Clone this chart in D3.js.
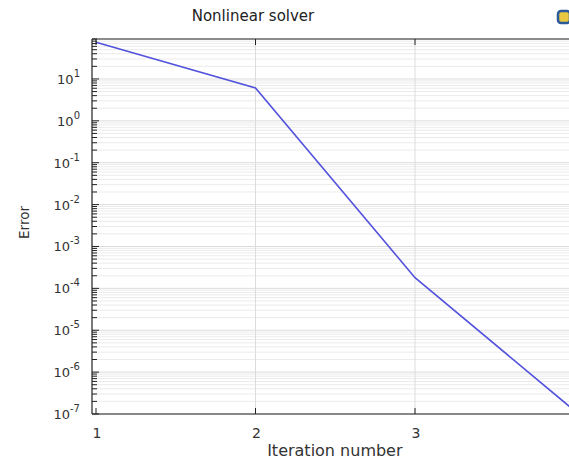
<!DOCTYPE html>
<html>
<head>
<meta charset="utf-8">
<script src="https://cdn.jsdelivr.net/npm/d3@7"></script>
<style>
  body { margin: 0; background: #fff; }
  svg { display: block; font-family: 'DejaVu Sans', sans-serif; }
</style>
</head>
<body>
<svg></svg>
<script>
const width = 569;
const height = 461;

// data
const iterations = [1, 2, 3, 4];
const errors = [75, 6.1, 1.8e-4, 1.2e-7];
const xTicks = [1, 2, 3, 4];
const yExponents = [-7, -6, -5, -4, -3, -2, -1, 0, 1];

const plotLeft = 92, plotTop = 39, plotBottom = 414;

const svg = d3.select('svg')
    .attr('width', width)
    .attr('height', height);

const x = d3.scaleLinear()
    .domain([1, 3])
    .range([96, 415]);

const y = d3.scaleLog()
    .domain([1e-7, 90])
    .range([plotBottom, plotTop]);

const plotRight = x(4.02);

// minor / major values for the log axis
const majors = yExponents.map(e => Math.pow(10, e));
const minors = [];
for (const e of yExponents) {
    for (let k = 2; k <= 9; k++) {
        const v = k * Math.pow(10, e);
        if (v <= y.domain()[1]) minors.push(v);
    }
}

const grid = svg.append('g').classed('grid', true);

grid.selectAll('.hminor')
    .data(minors)
    .enter()
    .append('line')
        .attr('x1', plotLeft)
        .attr('x2', plotRight)
        .attr('y1', d => y(d))
        .attr('y2', d => y(d))
        .attr('stroke', '#ebebeb')
        .attr('stroke-width', 1);

grid.selectAll('.hmajor')
    .data(majors)
    .enter()
    .append('line')
        .attr('x1', plotLeft)
        .attr('x2', plotRight)
        .attr('y1', d => y(d))
        .attr('y2', d => y(d))
        .attr('stroke', '#dcdcdc')
        .attr('stroke-width', 1);

grid.selectAll('.vgrid')
    .data(xTicks.slice(1))
    .enter()
    .append('line')
        .attr('x1', d => x(d))
        .attr('x2', d => x(d))
        .attr('y1', plotTop)
        .attr('y2', plotBottom)
        .attr('stroke', '#dcdcdc')
        .attr('stroke-width', 1);

// the curve
const line = d3.line()
    .x((d, i) => x(iterations[i]))
    .y(d => y(d));

svg.append('path')
    .datum(errors)
    .attr('d', line)
    .attr('fill', 'none')
    .attr('stroke', '#5252dc')
    .attr('stroke-width', 1.6);

// frame
const frame = svg.append('g')
    .attr('stroke', '#222')
    .attr('stroke-width', 1.2);
frame.append('line').attr('x1', plotLeft).attr('x2', plotLeft).attr('y1', plotTop).attr('y2', plotBottom);
frame.append('line').attr('x1', plotLeft).attr('x2', plotRight).attr('y1', plotTop).attr('y2', plotTop);
frame.append('line').attr('x1', plotLeft).attr('x2', plotRight).attr('y1', plotBottom).attr('y2', plotBottom);

// y ticks, pointing inwards
const ticks = svg.append('g').attr('stroke', '#222').attr('stroke-width', 1);
ticks.selectAll('.ymajor')
    .data(majors)
    .enter()
    .append('line')
        .attr('x1', plotLeft)
        .attr('x2', plotLeft + 7)
        .attr('y1', d => y(d))
        .attr('y2', d => y(d));
ticks.selectAll('.yminor')
    .data(minors)
    .enter()
    .append('line')
        .attr('x1', plotLeft)
        .attr('x2', plotLeft + 5)
        .attr('y1', d => y(d))
        .attr('y2', d => y(d));

// x ticks top and bottom
ticks.selectAll('.xbot')
    .data(xTicks)
    .enter()
    .append('line')
        .attr('x1', d => x(d))
        .attr('x2', d => x(d))
        .attr('y1', plotBottom)
        .attr('y2', plotBottom - 6);
ticks.selectAll('.xtop')
    .data(xTicks)
    .enter()
    .append('line')
        .attr('x1', d => x(d))
        .attr('x2', d => x(d))
        .attr('y1', plotTop)
        .attr('y2', plotTop + 6);

// y labels
const ylab = svg.append('g')
    .attr('fill', '#333')
    .attr('font-size', 13)
    .attr('text-anchor', 'end');
ylab.selectAll('text')
    .data(yExponents)
    .enter()
    .append('text')
        .attr('x', 80)
        .attr('y', d => y(Math.pow(10, d)) + 5)
        .each(function(d) {
            const t = d3.select(this);
            t.append('tspan').text('10');
            t.append('tspan')
                .attr('dy', -7)
                .attr('font-size', 10)
                .text(d < 0 ? '-' + (-d) : d);
        });

// x labels
svg.append('g')
    .attr('fill', '#333')
    .attr('font-size', 14)
    .attr('text-anchor', 'middle')
    .selectAll('text')
    .data(xTicks)
    .enter()
    .append('text')
        .attr('x', d => x(d) + 1)
        .attr('y', plotBottom + 24)
        .text(d => d);

svg.append('text')
    .attr('x', (plotLeft + plotRight) / 2)
    .attr('y', 456)
    .attr('text-anchor', 'middle')
    .attr('font-size', 16)
    .attr('fill', '#333')
    .text('Iteration number');

svg.append('text')
    .attr('transform', `translate(29, ${(plotTop + plotBottom) / 2 - 4}) rotate(-90)`)
    .attr('text-anchor', 'middle')
    .attr('font-size', 13.5)
    .attr('fill', '#333')
    .text('Error');

svg.append('text')
    .attr('x', 253)
    .attr('y', 21)
    .attr('text-anchor', 'middle')
    .attr('font-size', 15)
    .attr('fill', '#222')
    .text('Nonlinear solver');

// small toolbar icon at the top right
svg.append('rect')
    .attr('x', 558)
    .attr('y', 11)
    .attr('width', 12)
    .attr('height', 12)
    .attr('rx', 3)
    .attr('fill', '#e8c840')
    .attr('stroke', '#2a5a9a')
    .attr('stroke-width', 2.5);
</script>
</body>
</html>
